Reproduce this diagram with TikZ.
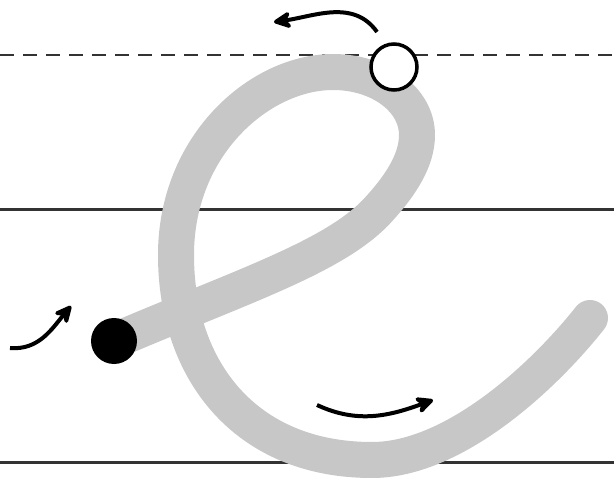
\documentclass[tikz,border=0pt]{standalone}
\usetikzlibrary{arrows.meta}

\begin{document}
\begin{tikzpicture}[x=1pt,y=-1pt,>={Stealth[length=22pt,width=21pt,inset=7pt,round]}]

% colors
\colorlet{cStroke}{black!22}
\colorlet{cRule}{black!80}

% geometry
\def\W{614}
\def\H{484}
\def\yTop{55}
\def\yMid{210}
\def\yBase{462}

\useasboundingbox (0,0) rectangle (\W,\H);

% guide lines
\draw[cRule,line width=2.8pt,dash pattern=on 14pt off 9pt] (0,\yTop) -- (\W,\yTop);
\draw[cRule,line width=3pt] (0,\yMid) -- (\W,\yMid);
\draw[cRule,line width=3pt] (0,\yBase) -- (\W,\yBase);

% the letter
\draw[cStroke,line width=36pt,line cap=round,line join=round]
  (114,341) .. controls (240,287) and (335,257) .. (378,210)
  .. controls (401,185) and (417,160) .. (417,135)
  .. controls (417,100) and (380,72) .. (333,72)
  .. controls (260,72) and (176,145) .. (176,255)
  .. controls (176,370) and (245,460) .. (372,460)
  .. controls (455,460) and (545,375) .. (590,318);

% start and turn points
\node[circle,fill=black,minimum size=46pt,inner sep=0pt] (start) at (114,341) {};
\node[circle,draw=black,fill=white,line width=3.5pt,minimum size=46pt,inner sep=0pt] (turn) at (394,67) {};

% direction arrows
\coordinate (topFrom) at (377,32);
\coordinate (topTo) at (274,22);
\coordinate (leftFrom) at (10,348);
\coordinate (leftTo) at (71,306);
\coordinate (lowFrom) at (317,405);
\coordinate (lowTo) at (433,400);

\draw[->,line width=4pt] (topFrom) to[out=125,in=8] (topTo);
\draw[->,line width=4pt] (leftFrom) to[out=-5,in=230] (leftTo);
\draw[->,line width=4pt] (lowFrom) to[out=-25,in=200] (lowTo);

\end{tikzpicture}
\end{document}
